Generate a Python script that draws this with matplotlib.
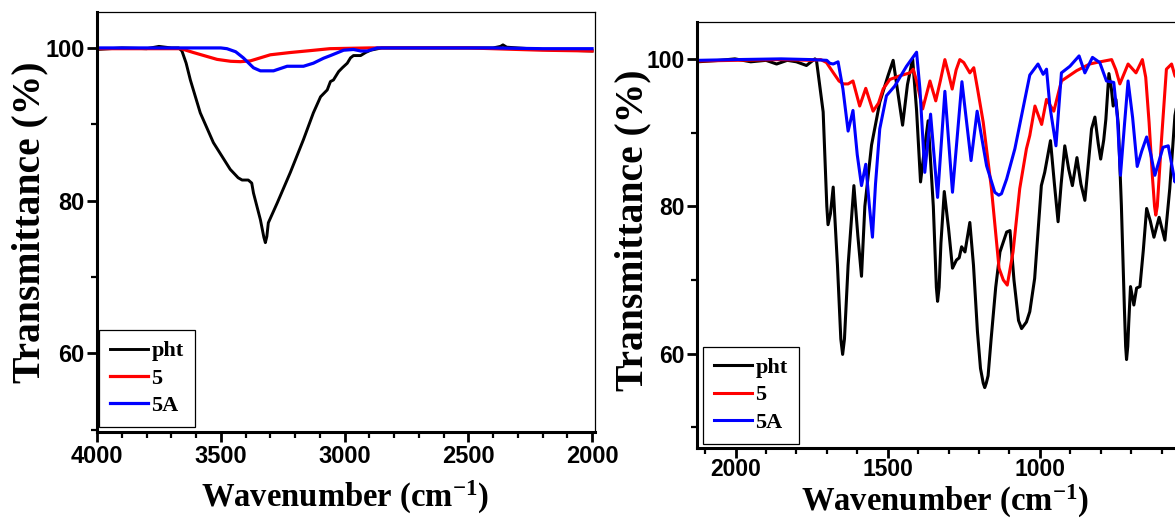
import matplotlib
matplotlib.use("Agg")
import matplotlib.pyplot as plt
from matplotlib.ticker import MultipleLocator

plt.rcParams["mathtext.fontset"] = "custom"
plt.rcParams["mathtext.rm"] = "Liberation Serif:bold"
plt.rcParams["mathtext.it"] = "Liberation Serif:bold"
plt.rcParams["mathtext.bf"] = "Liberation Serif:bold"

# left panel: 4000-2000 cm-1
l_wn_pht = [4000, 3900, 3800, 3750, 3700, 3670, 3657, 3640, 3623, 3583, 3530, 3462, 3430, 3414,
            3389, 3375, 3368, 3340, 3326, 3320, 3314, 3308, 3272, 3219, 3166, 3126, 3097, 3070,
            3057, 3045, 3024, 3009, 2989, 2976, 2964, 2935, 2915, 2895, 2850, 2700, 2500, 2400,
            2370, 2360, 2345, 2300, 2200, 2100, 2000]
l_t_pht = [99.8, 100, 99.9, 100.2, 100, 100, 99.6, 98.0, 95.8, 91.5, 87.6, 84.1, 83.0, 82.7,
           82.7, 82.3, 81.0, 77.5, 75.2, 74.5, 75.3, 77.1, 79.7, 83.7, 88.0, 91.5, 93.6, 94.5,
           95.6, 95.8, 96.9, 97.4, 98.0, 98.7, 99.0, 99.0, 99.4, 99.7, 100, 100, 100, 100,
           100.2, 100.4, 100.1, 100, 99.8, 99.7, 99.6]
l_wn_5 = [4000, 3800, 3700, 3660, 3611, 3515, 3460, 3421, 3381, 3300, 3219, 3138, 3060, 2900,
          2500, 2300, 2200, 2000]
l_t_5 = [99.9, 99.9, 99.9, 99.9, 99.4, 98.5, 98.25, 98.2, 98.3, 99.1, 99.4, 99.65, 99.9, 100,
         100, 99.8, 99.7, 99.6]
l_wn_5a = [4000, 3800, 3600, 3500, 3475, 3440, 3409, 3368, 3340, 3287, 3232, 3166, 3126, 3085,
           3057, 3004, 2964, 2935, 2908, 2868, 2700, 2400, 2200, 2000]
l_t_5a = [100, 100, 100, 100, 99.9, 99.5, 98.7, 97.4, 97.0, 97.0, 97.6, 97.6, 98.0, 98.65,
          99.0, 99.7, 99.8, 99.6, 99.6, 100, 100, 100, 99.9, 99.9]

# right panel: fingerprint region
r_wn_pht = [2125, 2050, 2002, 1950, 1900, 1865, 1830, 1800, 1767, 1739, 1734, 1712, 1700, 1696,
            1688, 1679, 1665, 1654, 1648, 1642, 1630, 1611, 1598, 1586, 1575, 1553, 1526, 1499,
            1482, 1465, 1451, 1435, 1418, 1405, 1392, 1380, 1367, 1350, 1340, 1336, 1331, 1325,
            1314, 1300, 1287, 1274, 1265, 1257, 1246, 1230, 1218, 1205, 1195, 1186, 1181, 1176,
            1170, 1160, 1145, 1131, 1109, 1098, 1085, 1070, 1060, 1044, 1033, 1017, 995, 984, 965,
            952, 940, 930, 918, 905, 893, 878, 865, 852, 840, 830, 819, 808, 800, 790, 783, 773,
            765, 759, 750, 742, 732, 722, 718, 715, 711, 708, 702, 691, 682, 671, 660, 649, 637,
            625, 608, 589, 573, 556, 540]
r_t_pht = [99.6, 99.8, 100.0, 99.6, 99.8, 99.3, 99.8, 99.6, 99.1, 100.0, 99.8, 92.8, 80, 77.5,
           79, 82.6, 72, 62, 59.9, 62, 72, 82.8, 76, 70.5, 80, 88.3, 94.1, 97.7,
           99.8, 95, 91.0, 96.5, 100.0, 93, 83.3, 87.5, 91.6, 80, 69, 67.1, 69, 75,
           82.0, 77, 71.6, 72.7, 73, 74.5, 73.8, 77.8, 72, 63, 58, 56, 55.4, 56,
           57, 62, 69, 73.8, 76.5, 76.7, 70, 64.5, 63.4, 64.3, 65.7, 70.2, 82.8, 84.6, 88.9,
           83, 77.9, 83, 88.2, 85, 82.8, 86.6, 83, 80.8, 86, 90.5, 92.1, 88.5, 86.4, 89, 91.8, 98.0,
           96, 93.6, 94.5, 91, 80.1, 66, 61, 59.2, 61, 64, 69.1, 66.6, 68.9, 69.1, 74, 79.7, 78,
           75.8, 78.5, 75.4, 82.4, 92.3, 96]
r_wn_5 = [2125, 2000, 1850, 1750, 1720, 1701, 1680, 1660, 1646, 1630, 1614, 1592, 1572, 1548,
          1530, 1515, 1493, 1460, 1427, 1416, 1405, 1385, 1361, 1342, 1327, 1312, 1300, 1288,
          1275, 1263, 1250, 1230, 1217, 1205, 1186, 1159, 1134, 1120, 1107, 1088, 1066, 1044,
          1033, 1016, 994, 978, 954, 929, 879, 836, 814, 764, 750, 737, 710, 684, 663, 652, 641,
          630, 623, 619, 614, 600, 584, 567, 556, 540]
r_t_5 = [99.7, 99.8, 99.9, 99.8, 99.9, 99.5, 98.2, 97, 96.6, 96.6, 97, 93.6, 96, 92.9,
         94, 95.9, 97.2, 97.7, 98.1, 98.6, 97, 93.2, 97, 94.3, 97, 99.9, 98, 95.9,
         98.5, 99.9, 99.5, 98.1, 98.8, 96, 91.4, 82.4, 71.6, 70, 69.3, 73.8, 82.4, 87.8,
         89.6, 93.6, 91.1, 94.5, 92.9, 97, 98.4, 99.3, 99.5, 99.9, 98.5, 96.6, 99.3, 98.1, 99.9,
         97.5, 91.4, 84, 80, 78.8, 80, 89.1, 98.6, 99.3, 97.7, 97]
r_wn_5a = [2125, 2000, 1850, 1750, 1700, 1690, 1679, 1663, 1647, 1630, 1614, 1600, 1586, 1572,
           1560, 1550, 1540, 1526, 1504, 1477, 1438, 1405, 1394, 1378, 1359, 1336, 1312, 1287,
           1256, 1226, 1206, 1175, 1148, 1135, 1126, 1109, 1082, 1060, 1033, 1006, 989, 978,
           967, 947, 929, 901, 871, 852, 827, 803, 781, 757, 745, 735, 722, 710, 695, 680, 665,
           649, 635, 622, 595, 578, 556, 540]
r_t_5a = [99.8, 99.9, 100, 99.9, 99.8, 99.4, 99.3, 99.6, 95.9, 90.2, 93, 87, 82.8, 85.7,
          80, 75.8, 83, 90.5, 95, 96.3, 99, 100.9, 95.9, 84.6, 92.5, 81.2, 95.6, 81.9,
          96.9, 86.2, 92.9, 85.5, 81.9, 81.5, 81.7, 83.7, 87.8, 92.3, 97.8, 99.3, 97.9, 98.6,
          93.6, 88.2, 98.1, 99, 100.4, 98.1, 100.2, 99.5, 97, 96.8, 92, 84.2, 91, 97, 92, 85.4,
          87.5, 89.4, 87, 84.2, 88, 88.2, 83.3, 86]

labels = ["pht", "5", "5A"]
colors = ["black", "red", "blue"]

serif = {"family": "Liberation Serif", "weight": "bold"}

fig = plt.figure(figsize=(11.75, 5.19), dpi=100)
ax1 = fig.add_axes([0.0826, 0.1676, 0.4238, 0.8092])
ax2 = fig.add_axes([0.5936, 0.1368, 0.4079, 0.8208])


def style(ax, ylab_xy, xlab_xy, pad, tsize):
    for s in ["left", "bottom"]:
        ax.spines[s].set_linewidth(2.2)
    for s in ["top", "right"]:
        ax.spines[s].set_linewidth(0.9)
    ax.xaxis.set_major_locator(MultipleLocator(500))
    ax.xaxis.set_minor_locator(MultipleLocator(100))
    ax.yaxis.set_major_locator(MultipleLocator(20))
    ax.yaxis.set_minor_locator(MultipleLocator(10))
    ax.tick_params(which="major", direction="out", length=7, width=2, pad=2)
    ax.tick_params(axis="x", which="major", pad=pad)
    ax.tick_params(which="minor", direction="out", length=4, width=1.6)
    for lab in ax.get_xticklabels() + ax.get_yticklabels():
        lab.set_family("Liberation Sans")
        lab.set_fontweight("bold")
        lab.set_fontsize(tsize)
    ax.set_ylabel("Transmittance (%)", fontsize=28.5, va="center", **serif)
    ax.set_xlabel("Wavenumber (cm$^{-1}$)", fontsize=23.5, va="center", **serif)
    ax.yaxis.set_label_coords(*ylab_xy)
    ax.xaxis.set_label_coords(*xlab_xy)


ax1.plot(l_wn_pht, l_t_pht, color=colors[0], lw=2.1, label=labels[0])
ax1.plot(l_wn_5, l_t_5, color=colors[1], lw=2.3, label=labels[1])
ax1.plot(l_wn_5a, l_t_5a, color=colors[2], lw=2.3, label=labels[2])
ax1.set_xlim(4000, 1988)
ax1.set_ylim(49.7, 104.7)
style(ax1, (-0.134, 0.5), (0.498, -0.157), 2, 17)

ax2.plot(r_wn_pht, r_t_pht, color=colors[0], lw=2.2, label=labels[0])
ax2.plot(r_wn_5, r_t_5, color=colors[1], lw=2.2, label=labels[1])
ax2.plot(r_wn_5a, r_t_5a, color=colors[2], lw=2.2, label=labels[2])
ax2.set_xlim(2125, 550)
ax2.set_ylim(47.2, 105)
style(ax2, (-0.135, 0.51), (0.516, -0.1245), 0.5, 16.5)

for ax, anchor in [(ax1, (0.004, 0.012)), (ax2, (0.012, 0.01))]:
    leg = ax.legend(loc="lower left", bbox_to_anchor=anchor, borderaxespad=0,
                    prop={"family": "Liberation Serif", "weight": "bold", "size": 16},
                    fancybox=False, edgecolor="black", framealpha=1, handlelength=1.7,
                    handletextpad=0.15, labelspacing=0.3, borderpad=0.5)
    leg.get_frame().set_linewidth(0.9)

fig.savefig("out.png", dpi=100)
